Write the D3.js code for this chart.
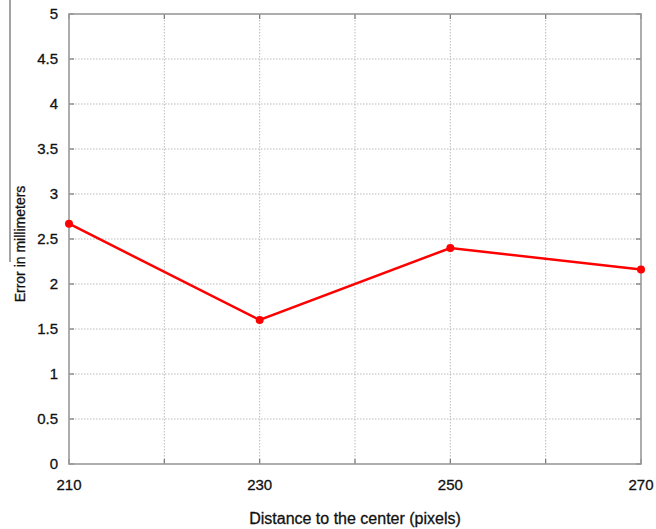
<!DOCTYPE html>
<html><head><meta charset="utf-8">
<script src="https://cdn.jsdelivr.net/npm/d3@7"></script>
<style>
html,body{margin:0;padding:0;background:#fff;}
svg{display:block;font-family:"Liberation Sans",Arial,sans-serif;}
</style></head>
<body>
<svg id="chart" width="656" height="529"></svg>
<script>
const distances = [210, 230, 250, 270];
const errors = [2.67, 1.6, 2.4, 2.16];
const xGridValues = [210, 220, 230, 240, 250, 260, 270];
const xTickLabels = [210, 230, 250, 270];
const yTickValues = [0, 0.5, 1, 1.5, 2, 2.5, 3, 3.5, 4, 4.5, 5];

const svg = d3.select("#chart");
const m = {left: 69, right: 641, top: 14, bottom: 464};
const x = d3.scaleLinear().domain([210, 270]).range([m.left, m.right]);
const y = d3.scaleLinear().domain([0, 5]).range([m.bottom, m.top]);

// grid
const g = svg.append("g");
g.selectAll(".gx").data(xGridValues.filter(v => v > 210 && v < 270)).enter().append("line")
  .attr("x1", d => x(d)).attr("x2", d => x(d)).attr("y1", m.top).attr("y2", m.bottom)
  .attr("stroke", "#bbb").attr("stroke-width", 1).attr("stroke-dasharray", "1.5,1.5");
g.selectAll(".gy").data(yTickValues.filter(v => v > 0 && v < 5)).enter().append("line")
  .attr("x1", m.left).attr("x2", m.right).attr("y1", d => y(d)).attr("y2", d => y(d))
  .attr("stroke", "#bbb").attr("stroke-width", 1).attr("stroke-dasharray", "1.5,1.5");

// inner ticks
const tickLen = 5, tickColor = "#777";
g.selectAll(".tb").data(xGridValues).enter().append("line")
  .attr("x1", d => x(d)).attr("x2", d => x(d)).attr("y1", m.bottom).attr("y2", m.bottom - tickLen)
  .attr("stroke", tickColor).attr("stroke-width", 1.2);
g.selectAll(".tt").data(xGridValues).enter().append("line")
  .attr("x1", d => x(d)).attr("x2", d => x(d)).attr("y1", m.top).attr("y2", m.top + tickLen)
  .attr("stroke", tickColor).attr("stroke-width", 1.2);
g.selectAll(".tl").data(yTickValues).enter().append("line")
  .attr("x1", m.left).attr("x2", m.left + tickLen).attr("y1", d => y(d)).attr("y2", d => y(d))
  .attr("stroke", tickColor).attr("stroke-width", 1.2);
g.selectAll(".tr").data(yTickValues).enter().append("line")
  .attr("x1", m.right).attr("x2", m.right - tickLen).attr("y1", d => y(d)).attr("y2", d => y(d))
  .attr("stroke", tickColor).attr("stroke-width", 1.2);

// frame
svg.append("rect").attr("x", m.left).attr("y", m.top)
  .attr("width", m.right - m.left).attr("height", m.bottom - m.top)
  .attr("fill", "none").attr("stroke", "#999").attr("stroke-width", 1.6);

// tick labels
svg.selectAll(".yl").data(yTickValues).enter().append("text")
  .attr("x", 58).attr("y", d => y(d)).attr("dy", "0.35em")
  .attr("text-anchor", "end").attr("font-size", 15).attr("fill", "#111")
  .attr("stroke", "#111").attr("stroke-width", 0.3)
  .text(d => d3.format("~g")(d));
svg.selectAll(".xl").data(xTickLabels).enter().append("text")
  .attr("x", d => x(d)).attr("y", 485).attr("dy", "0.35em")
  .attr("text-anchor", "middle").attr("font-size", 15).attr("fill", "#111")
  .attr("stroke", "#111").attr("stroke-width", 0.3)
  .text(d => d);

// axis titles
svg.append("text").attr("x", 355).attr("y", 518).attr("dy", "0.35em")
  .attr("text-anchor", "middle").attr("font-size", 16).attr("fill", "#111")
  .attr("stroke", "#111").attr("stroke-width", 0.3)
  .text("Distance to the center (pixels)");
svg.append("text").attr("transform", "translate(20,244) rotate(-90)").attr("dy", "0.35em")
  .attr("text-anchor", "middle").attr("font-size", 14).attr("fill", "#111")
  .attr("stroke", "#111").attr("stroke-width", 0.3)
  .text("Error in millimeters");
// stray vertical rule at left edge
svg.append("line").attr("x1", 10).attr("x2", 10).attr("y1", 0).attr("y2", 262)
  .attr("stroke", "#666").attr("stroke-width", 1.2);

// data line
const data = distances.map((d, i) => ({x: d, y: errors[i]}));
svg.append("path").datum(data)
  .attr("d", d3.line().x(d => x(d.x)).y(d => y(d.y)))
  .attr("fill", "none").attr("stroke", "#ff0000").attr("stroke-width", 2.5);
svg.selectAll(".pt").data(data).enter().append("circle")
  .attr("cx", d => x(d.x)).attr("cy", d => y(d.y)).attr("r", 4)
  .attr("fill", "#ff0000");
</script>
</body></html>
